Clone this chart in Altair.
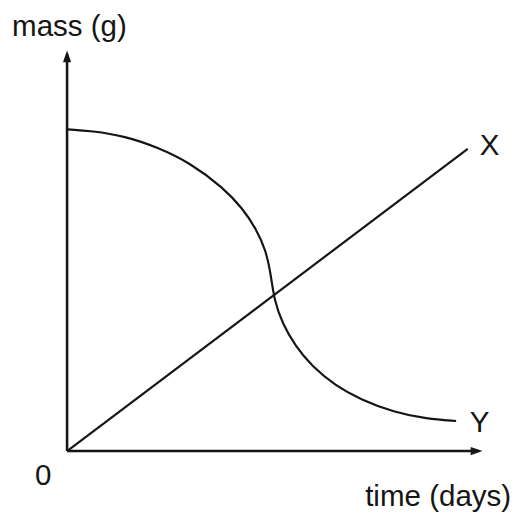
import altair as alt
import pandas as pd

# Line X (straight, from origin)
x_line_time = [0.0, 9.69]
x_line_mass = [0.0, 7.54]

# Curve Y (decreasing, sigmoid-like)
y_curve_time = [0.0, 0.60, 1.40, 2.19, 2.98, 3.78, 4.25, 4.57, 4.81, 4.93, 5.01,
                5.21, 5.52, 5.92, 6.48, 7.11, 7.90, 8.70, 9.41]
y_curve_mass = [8.03, 7.99, 7.86, 7.58, 7.19, 6.57, 6.05, 5.55, 5.01, 4.40, 3.76,
                3.18, 2.62, 2.12, 1.64, 1.28, 0.97, 0.80, 0.75]

# Axis lines (with arrow heads)
x_axis_end = 9.95
y_axis_end = 9.9
x_arrow_pos = [9.905, 0.0]
y_arrow_pos = [0.0, 9.85]

# Text labels
label_text = ["mass (g)", "time (days)", "0", "X", "Y"]
label_time = [-1.33, 10.74, -0.58, 9.98, 9.74]
label_mass = [10.37, -1.376, -0.835, 7.40, 0.467]
label_align = ["left", "right", "center", "left", "left"]

INK = "#151515"
FONT = "Liberation Sans"
FS = 30

xs = alt.Scale(domain=[0, 10], range=[60, 480])
ys = alt.Scale(domain=[0, 10], range=[446, 39])

def X(field="t"):
    return alt.X(f"{field}:Q", scale=xs, axis=None)

def Y(field="m"):
    return alt.Y(f"{field}:Q", scale=ys, axis=None)

line_x_df = pd.DataFrame({"t": x_line_time, "m": x_line_mass, "i": range(len(x_line_time))})
curve_y_df = pd.DataFrame({"t": y_curve_time, "m": y_curve_mass, "i": range(len(y_curve_time))})

axes_df = pd.DataFrame({
    "t": [0.0, 0.0], "m": [0.0, 0.0],
    "t2": [x_axis_end, 0.0], "m2": [0.0, y_axis_end],
})

x_axis_rule = alt.Chart(axes_df).mark_rule(color=INK, strokeWidth=2.6).encode(
    x=X("t"), y=Y("m"), x2="t2:Q", y2="m2:Q"
)

x_arrow = alt.Chart(pd.DataFrame({"t": [x_arrow_pos[0]], "m": [x_arrow_pos[1]]})).mark_point(
    shape="M-1,-0.7L1,0L-1,0.7Z", filled=True, color=INK, size=144, opacity=1
).encode(x=X(), y=Y())

y_arrow = alt.Chart(pd.DataFrame({"t": [y_arrow_pos[0]], "m": [y_arrow_pos[1]]})).mark_point(
    shape="M-0.7,1L0,-1L0.7,1Z", filled=True, color=INK, size=144, opacity=1
).encode(x=X(), y=Y())

line_x = alt.Chart(line_x_df).mark_line(color=INK, strokeWidth=2.2).encode(
    x=X(), y=Y(), order="i:Q"
)

curve_y = alt.Chart(curve_y_df).mark_line(color=INK, strokeWidth=2.2, interpolate="basis").encode(
    x=X(), y=Y(), order="i:Q"
)

labels_df = pd.DataFrame({"txt": label_text, "t": label_time, "m": label_mass, "al": label_align})
text_layers = []
for al in ["left", "right", "center"]:
    text_layers.append(
        alt.Chart(labels_df[labels_df["al"] == al]).mark_text(
            align=al, baseline="alphabetic", font=FONT, fontSize=FS, color=INK
        ).encode(x=X(), y=Y(), text="txt:N")
    )

chart = alt.layer(x_axis_rule, x_arrow, y_arrow, line_x, curve_y, *text_layers).properties(
    width=515, height=512,
    autosize=alt.AutoSizeParams(type="none"),
    padding=0,
    background="white",
).configure_view(strokeWidth=0)

chart.save("out.html", embed_options={"renderer": "svg", "actions": False})
